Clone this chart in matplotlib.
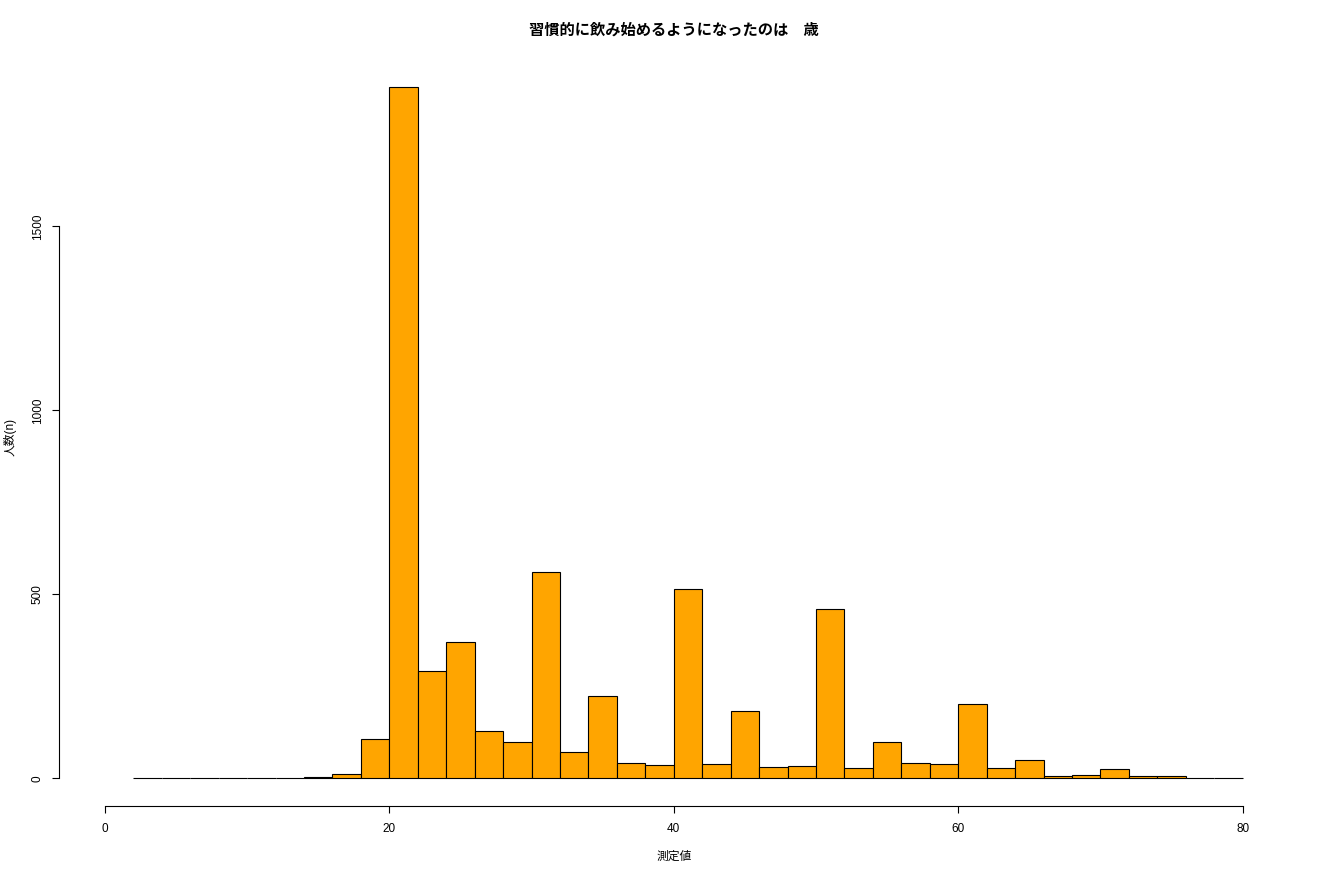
import matplotlib
matplotlib.use("Agg")
import matplotlib.pyplot as plt

plt.rcParams['font.family'] = ['Liberation Sans', 'Noto Sans CJK JP', 'DejaVu Sans']

# histogram of age (bins of 2 years, 2..80)
bin_edges = list(range(2, 82, 2))
counts = [1, 0, 0, 1, 0, 2, 3, 11, 107,
          1880, 291, 370, 130, 100,
          560, 71, 223, 43, 35,
          514, 38, 182, 30, 33,
          459, 27, 98, 41, 38,
          201, 28, 51, 7, 8,
          26, 5, 5, 1, 1]
x_ticks = [0, 20, 40, 60, 80]
y_ticks = [0, 500, 1000, 1500]

title = "習慣的に飲み始めるようになったのは　歳"
xlabel = "測定値"
ylabel = "人数(n)"

fig = plt.figure(figsize=(13.2, 8.8), dpi=100)
W, H = 1320, 880
left, right, top, bottom = 89, 1287, 59, 806
ax = fig.add_axes([left / W, 1 - bottom / H, (right - left) / W, (bottom - top) / H])

ax.bar(bin_edges[:-1], counts, width=2, align='edge',
       color='#FFA500', edgecolor='black', linewidth=0.8)

ax.set_xlim(-1.12, 83.12)
ax.set_ylim(-75.2, 1955.2)

for s in ['top', 'right']:
    ax.spines[s].set_visible(False)
# outward offset is in points: 30 px -> 21.6 pt
ax.spines['left'].set_position(('outward', 21.6))
ax.spines['left'].set_bounds(0, 1500)
ax.spines['bottom'].set_bounds(0, 80)
ax.spines['left'].set_linewidth(0.8)
ax.spines['bottom'].set_linewidth(0.8)

ax.set_xticks(x_ticks)
ax.set_yticks(y_ticks)
ax.set_yticklabels([str(v) for v in y_ticks], rotation=90, va='center')
ax.tick_params(axis='both', length=5, width=0.8, labelsize=8.5)
ax.tick_params(axis='x', pad=7)
ax.tick_params(axis='y', pad=6)

fig.text(674 / W, 1 - 30 / H, title, ha='center', va='center',
         fontsize=11, fontweight='bold')
fig.text(674 / W, 1 - 857 / H, xlabel, ha='center', va='center', fontsize=8.5)
fig.text(10 / W, 1 - 437 / H, ylabel, ha='center', va='center',
         fontsize=8.5, rotation=90)

fig.savefig('out.png', dpi=100)
